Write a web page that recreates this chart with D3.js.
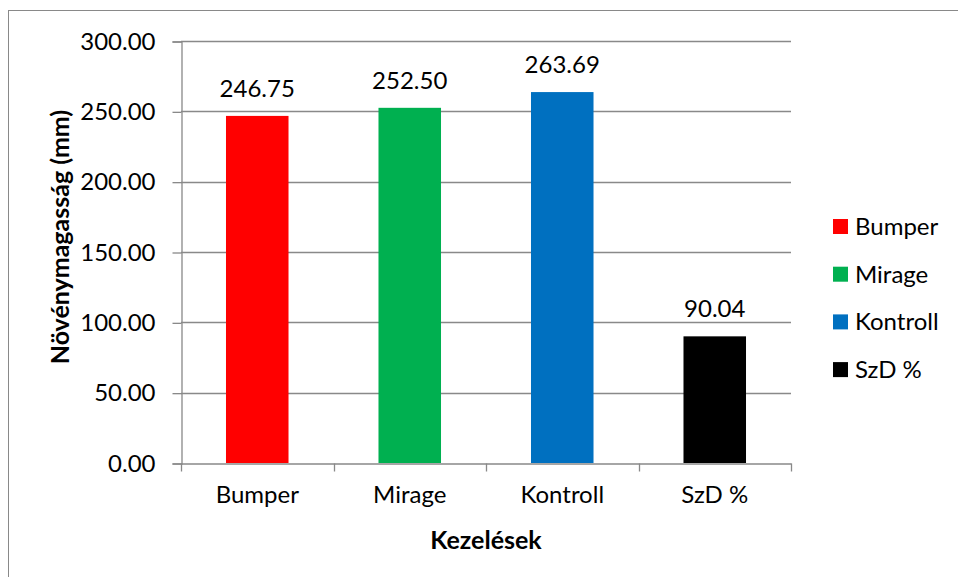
<html>
<head>
<script src="https://d3js.org/d3.v7.min.js"></script>
<style>
  body { margin: 0; background: #fff; }
  text { font-family: Lato, "Open Sans", sans-serif; fill: #000; }
</style>
</head>
<body>
<svg id="svg" width="958" height="577"></svg>
<script>
// chart data
var categories = ["Bumper", "Mirage", "Kontroll", "SzD %"];
var values = [246.75, 252.50, 263.69, 90.04];
var colors = ["#ff0000", "#00b050", "#0070c0", "#000000"];
var yTicks = [0, 50, 100, 150, 200, 250, 300];

var svg = d3.select("svg");

// outer chart border (right/bottom run off the picture)
svg.append("rect").attr("x", 8.5).attr("y", 10.5).attr("width", 1000).attr("height", 1000)
    .attr("fill", "none").attr("stroke", "#898989").attr("stroke-width", 1);

var plotLeft = 181, plotRight = 791, plotTop = 41, plotBottom = 463;

var x = d3.scaleBand().domain(categories).range([plotLeft, plotRight]).paddingInner(0.59).paddingOuter(0.295);
var y = d3.scaleLinear().domain([0, 300]).range([plotBottom, plotTop]);

// gridlines
svg.append("g").selectAll("line").data(yTicks.slice(1)).enter().append("line")
    .attr("x1", plotLeft).attr("x2", plotRight)
    .attr("y1", function(d){ return Math.round(y(d)) + 0.5; })
    .attr("y2", function(d){ return Math.round(y(d)) + 0.5; })
    .attr("stroke", "#898989").attr("stroke-width", 1.3);

// y axis
var yAxis = svg.append("g").attr("transform", "translate(" + (plotLeft + 0.5) + ",0.5)")
    .call(d3.axisLeft(y).tickValues(yTicks).tickFormat(d3.format(".2f")).tickSize(9).tickPadding(17));
yAxis.select(".domain").attr("stroke", "#898989").attr("stroke-width", 1.3);
yAxis.selectAll(".tick line").attr("stroke", "#898989").attr("stroke-width", 1.3);
yAxis.selectAll("text").style("font-size", "24px").attr("fill", "#000");

// bars
svg.append("g").selectAll("rect").data(values).enter().append("rect")
    .attr("x", function(d, i){ return x(categories[i]); })
    .attr("y", function(d){ return y(d); })
    .attr("width", x.bandwidth())
    .attr("height", function(d){ return y(0) - y(d); })
    .attr("fill", function(d, i){ return colors[i]; });

// x axis
var xAxis = svg.append("g").attr("transform", "translate(0," + (plotBottom + 0.5) + ")")
    .call(d3.axisBottom(x).tickSize(0).tickPadding(22));
xAxis.select(".domain").attr("stroke", "#898989").attr("stroke-width", 1.3);
xAxis.selectAll("text").style("font-size", "24px").attr("fill", "#000");
// category boundary ticks
var bounds = categories.map(function(c){ return x(c) - x.step() * x.paddingInner() / 2; });
bounds.push(plotRight);
xAxis.selectAll(".bound").data(bounds).enter().append("line").attr("class", "bound")
    .attr("x1", function(d){ return Math.round(d) + 0.5; })
    .attr("x2", function(d){ return Math.round(d) + 0.5; })
    .attr("y1", 0).attr("y2", 8)
    .attr("stroke", "#898989").attr("stroke-width", 1.3);

// data labels
svg.append("g").selectAll("text").data(values).enter().append("text")
    .attr("x", function(d, i){ return x(categories[i]) + x.bandwidth() / 2; })
    .attr("y", function(d){ return y(d) - 19; })
    .attr("text-anchor", "middle")
    .style("font-size", "24px")
    .text(function(d){ return d.toFixed(2); });

// axis titles
svg.append("text").attr("transform", "translate(69,237) rotate(-90)")
    .attr("text-anchor", "middle").style("font-size", "25px").style("font-weight", "bold")
    .text("Növénymagasság (mm)");
svg.append("text").attr("x", 486).attr("y", 549)
    .attr("text-anchor", "middle").style("font-size", "25px").style("font-weight", "bold")
    .text("Kezelések");

// legend
var legend = svg.append("g").selectAll("g").data(categories).enter().append("g")
    .attr("transform", function(d, i){ return "translate(833," + (226 + i * 47.7) + ")"; });
legend.append("rect").attr("x", 0).attr("y", -7).attr("width", 15).attr("height", 15)
    .attr("fill", function(d, i){ return colors[i]; });
legend.append("text").attr("x", 22).attr("y", 9).style("font-size", "24px").text(function(d){ return d; });
</script>
</body>
</html>
